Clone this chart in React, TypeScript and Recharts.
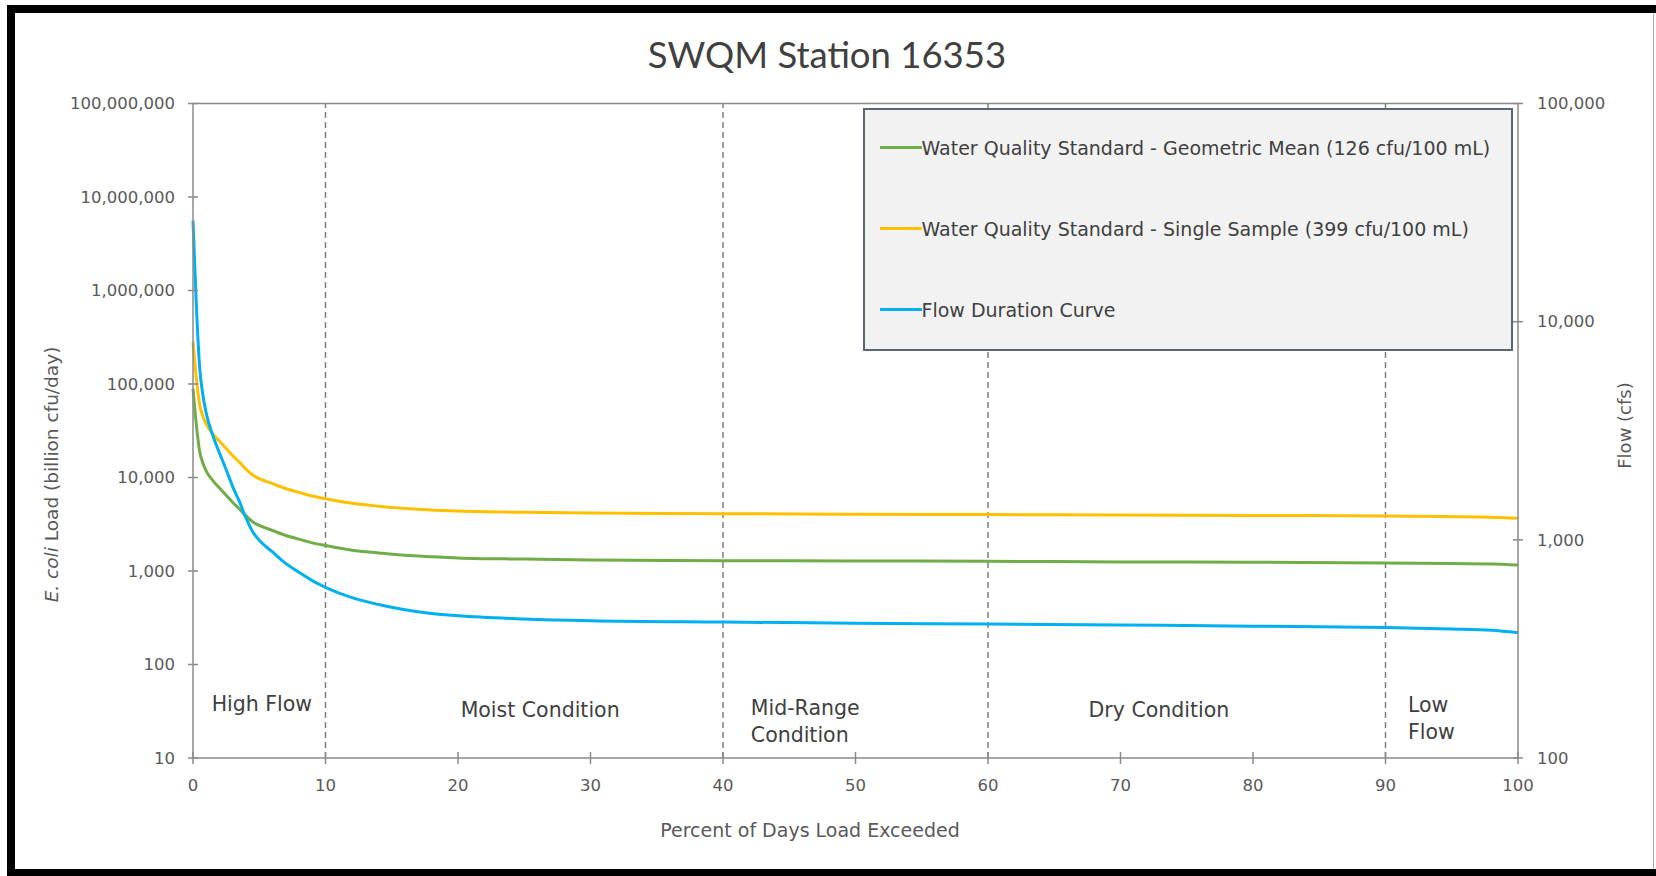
import React from "react";
import { LineChart, Line, XAxis, YAxis, ReferenceLine, Legend } from "recharts";

// percent of days exceeded, with the matching load / flow readings
const pct = [0, 0.25, 0.5, 0.75, 1, 1.5, 2, 2.5, 3, 3.5, 4, 4.5, 5, 6, 7, 8, 9, 10, 12, 14, 16, 18, 20, 25, 30, 40, 50, 60, 70, 80, 90, 95, 98, 100];
const geoMeanLoad = [89000, 37000, 19100, 14200, 11700, 9250, 7710, 6470, 5400, 4620, 3880, 3360, 3070, 2710, 2400, 2190, 2000, 1870, 1670, 1560, 1470, 1420, 1380, 1340, 1310, 1290, 1280, 1270, 1250, 1240, 1220, 1200, 1190, 1160];
const singleSampleLoad = [283000, 117000, 60500, 44900, 37100, 29300, 24400, 20500, 17100, 14600, 12300, 10640, 9720, 8590, 7620, 6930, 6350, 5920, 5300, 4930, 4670, 4490, 4380, 4240, 4160, 4100, 4050, 4010, 3970, 3930, 3870, 3810, 3760, 3660];
const flowCfs = [29000, 12000, 6200, 4600, 3800, 3000, 2500, 2100, 1750, 1500, 1260, 1090, 995, 880, 780, 710, 650, 606, 543, 505, 478, 460, 449, 434, 426, 420, 415, 411, 407, 402, 396, 390, 385, 375];

const xTicks = [0, 10, 20, 30, 40, 50, 60, 70, 80, 90, 100];
const loadTicks = [10, 100, 1000, 10000, 100000, 1000000, 10000000, 100000000];
const flowTicks = [100, 1000, 10000, 100000];
const conditionBreaks = [10, 40, 60, 90];
const seriesNames = [
  "Water Quality Standard - Geometric Mean (126 cfu/100 mL)",
  "Water Quality Standard - Single Sample (399 cfu/100 mL)",
  "Flow Duration Curve",
];

const data = pct.map((p, i) => ({
  pct: p,
  geo: geoMeanLoad[i],
  single: singleSampleLoad[i],
  flow: flowCfs[i],
}));

const FONT = "'DejaVu Sans', sans-serif";
const AXIS = "#8a8a8a";
const TXT = "#595959";
const DARK = "#404040";

const fmt = (v: number) => v.toLocaleString("en-US");

function LeftTick(props: any) {
  const { x, y, payload } = props;
  const ax = x + 18;
  return (
    <g>
      <line x1={ax - 5} x2={ax + 5} y1={y} y2={y} stroke={AXIS} strokeWidth={1.5} />
      <text x={x} y={y} dy="0.35em" textAnchor="end" fill={TXT} fontSize={16.5} fontFamily={FONT}>
        {fmt(payload.value)}
      </text>
    </g>
  );
}

function RightTick(props: any) {
  const { x, y, payload } = props;
  const ax = x - 19;
  return (
    <g>
      <line x1={ax - 5} x2={ax + 5} y1={y} y2={y} stroke={AXIS} strokeWidth={1.5} />
      <text x={x} y={y} dy="0.35em" textAnchor="start" fill={TXT} fontSize={16.5} fontFamily={FONT}>
        {fmt(payload.value)}
      </text>
    </g>
  );
}

function BottomTick(props: any) {
  const { x, y, payload } = props;
  const ay = y - 18;
  return (
    <g>
      <line x1={x} x2={x} y1={ay - 6} y2={ay + 6} stroke={AXIS} strokeWidth={1.5} />
      <text x={x} y={ay + 27} dy="0.35em" textAnchor="middle" fill={TXT} fontSize={16.5} fontFamily={FONT}>
        {payload.value}
      </text>
    </g>
  );
}

// label text for each flow condition zone
const regions = [
  { at: 5.2, lines: ["High Flow"], anchor: "middle", up: 54 },
  { at: 26.2, lines: ["Moist Condition"], anchor: "middle", up: 48 },
  { at: 42.1, lines: ["Mid-Range", "Condition"], anchor: "start", up: 50 },
  { at: 72.9, lines: ["Dry Condition"], anchor: "middle", up: 48 },
  { at: 91.7, lines: ["Low", "Flow"], anchor: "start", up: 53 },
];

const regionLabel = (lines: string[], anchor: string, up: number) => (props: any) => {
  const vb = props.viewBox;
  const bottom = vb.y + vb.height;
  return (
    <text x={vb.x} y={bottom - up} textAnchor={anchor} fill={DARK} fontSize={20.5} fontFamily={FONT}>
      {lines.map((l, i) => (
        <tspan key={i} x={vb.x} dy={i === 0 ? "0.35em" : 27}>
          {l}
        </tspan>
      ))}
    </text>
  );
};

const titleLabel = (props: any) => {
  const vb = props.viewBox;
  return (
    <text x={vb.x + 634} y={vb.y - 35.5} textAnchor="middle" fill={DARK} fontSize={36.5} fontFamily="Lato, sans-serif">
      SWQM Station 16353
    </text>
  );
};

const leftTitle = (props: any) => {
  const vb = props.viewBox;
  const cx = vb.x - 41;
  const cy = vb.y + 371;
  return (
    <text x={cx} y={cy} transform={`rotate(-90 ${cx} ${cy})`} textAnchor="middle" dy="0.35em" fill={TXT} fontSize={18.5} fontFamily={FONT}>
      <tspan fontStyle="italic">E. coli</tspan> Load (billion cfu/day)
    </text>
  );
};

const rightTitle = (props: any) => {
  const vb = props.viewBox;
  const cx = vb.x + 107;
  const cy = vb.y + 322;
  return (
    <text x={cx} y={cy} transform={`rotate(-90 ${cx} ${cy})`} textAnchor="middle" dy="0.35em" fill={TXT} fontSize={18} fontFamily={FONT}>
      Flow (cfs)
    </text>
  );
};

const bottomTitle = (props: any) => {
  const vb = props.viewBox;
  return (
    <text x={vb.x + 617} y={vb.y + 72} dy="0.35em" textAnchor="middle" fill={TXT} fontSize={19} fontFamily={FONT}>
      Percent of Days Load Exceeded
    </text>
  );
};

function LegendBox(props: any) {
  const payload = [...(props.payload || [])].sort(
    (a: any, b: any) => seriesNames.indexOf(a.value) - seriesNames.indexOf(b.value)
  );
  return (
    <div
      style={{
        width: 650,
        height: 243,
        boxSizing: "border-box",
        background: "#F2F2F2",
        border: "2.5px solid #5B6770",
        position: "relative",
      }}
    >
      {payload.map((entry: any, i: number) => (
        <div
          key={entry.value}
          style={{
            position: "absolute",
            left: 14.5,
            top: 26.5 + i * 81,
            height: 22,
            display: "flex",
            alignItems: "center",
            whiteSpace: "nowrap",
          }}
        >
          <span style={{ display: "inline-block", width: 42, height: 3, background: entry.color }} />
          <span style={{ fontFamily: FONT, fontSize: 19, color: DARK, lineHeight: "22px" }}>{entry.value}</span>
        </div>
      ))}
    </div>
  );
}

export default function App() {
  return (
    <div style={{ position: "absolute", left: 0, top: 0, width: 1656, height: 876, background: "#fff" }}>
      <LineChart
        width={1656}
        height={876}
        data={data}
        margin={{ top: 103.5, right: 38, bottom: 58, left: 93 }}
        style={{ fontFamily: FONT }}
      >
        <XAxis
          dataKey="pct"
          type="number"
          domain={[0, 100]}
          ticks={xTicks}
          interval={0}
          height={60}
          tickSize={6}
          tickMargin={12}
          tickLine={false}
          tick={<BottomTick />}
          axisLine={{ stroke: AXIS, strokeWidth: 1.5 }}
          label={bottomTitle}
        />
        <YAxis
          yAxisId="left"
          scale="log"
          type="number"
          domain={[10, 100000000]}
          allowDataOverflow
          ticks={loadTicks}
          interval={0}
          width={100}
          tickSize={5}
          tickMargin={13}
          tickLine={false}
          tick={<LeftTick />}
          axisLine={{ stroke: AXIS, strokeWidth: 1.5 }}
          label={leftTitle}
        />
        <YAxis
          yAxisId="right"
          orientation="right"
          scale="log"
          type="number"
          domain={[100, 100000]}
          allowDataOverflow
          ticks={flowTicks}
          interval={0}
          width={100}
          tickSize={5}
          tickMargin={14}
          tickLine={false}
          tick={<RightTick />}
          axisLine={{ stroke: AXIS, strokeWidth: 1.5 }}
          label={rightTitle}
        />
        <ReferenceLine yAxisId="left" y={100000000} stroke={AXIS} strokeWidth={1.5} label={titleLabel} />
        {conditionBreaks.map((b) => (
          <ReferenceLine key={b} yAxisId="left" x={b} stroke="#7f7f7f" strokeWidth={1.5} strokeDasharray="6 4" />
        ))}
        {regions.map((r) => (
          <ReferenceLine
            key={r.at}
            yAxisId="left"
            x={r.at}
            stroke="none"
            label={regionLabel(r.lines, r.anchor, r.up)}
          />
        ))}
        <Line
          yAxisId="left"
          dataKey="geo"
          name={seriesNames[0]}
          stroke="#70AD47"
          strokeWidth={3}
          dot={false}
          type="monotone"
          isAnimationActive={false}
        />
        <Line
          yAxisId="left"
          dataKey="single"
          name={seriesNames[1]}
          stroke="#FFC000"
          strokeWidth={3}
          dot={false}
          type="monotone"
          isAnimationActive={false}
        />
        <Line
          yAxisId="right"
          dataKey="flow"
          name={seriesNames[2]}
          stroke="#00B0F0"
          strokeWidth={3}
          dot={false}
          type="monotone"
          isAnimationActive={false}
        />
        <Legend
          layout="horizontal"
          verticalAlign="middle"
          align="center"
          content={<LegendBox />}
          wrapperStyle={{ left: 863, top: 108, width: 650, height: 243 }}
        />
      </LineChart>
      <div style={{ position: "absolute", left: 7, top: 5, width: 8, height: 871, background: "#000" }} />
      <div style={{ position: "absolute", left: 7, top: 5, width: 1649, height: 8, background: "#000" }} />
      <div style={{ position: "absolute", left: 7, top: 869, width: 1649, height: 7, background: "#000" }} />
      <div style={{ position: "absolute", left: 1653, top: 13, width: 1, height: 856, background: "#aaa" }} />
    </div>
  );
}
